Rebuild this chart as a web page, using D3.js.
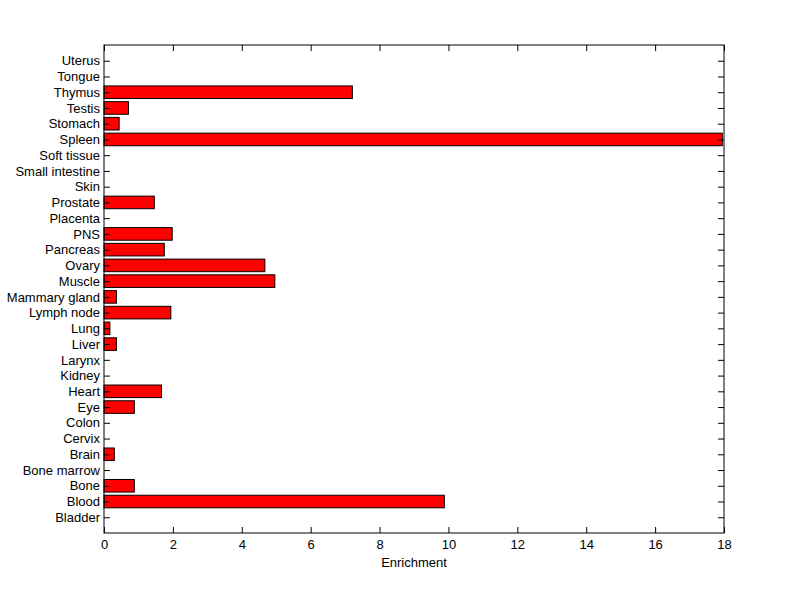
<!DOCTYPE html>
<html>
<head>
<meta charset="utf-8">
<script src="https://cdn.jsdelivr.net/npm/d3@7"></script>
<style>
  body { margin: 0; background: #fff; }
  text { font-family: "Liberation Sans", Arial, sans-serif; }
</style>
</head>
<body>
<svg id="chart" width="800" height="599"></svg>
<script>
const categories = ["Bladder","Blood","Bone","Bone marrow","Brain","Cervix","Colon","Eye","Heart","Kidney",
  "Larynx","Liver","Lung","Lymph node","Mammary gland","Muscle","Ovary","Pancreas","PNS","Placenta",
  "Prostate","Skin","Small intestine","Soft tissue","Spleen","Stomach","Testis","Thymus","Tongue","Uterus"];
const enrichment = [0, 9.88, 0.88, 0, 0.30, 0, 0, 0.88, 1.67, 0,
  0, 0.36, 0.17, 1.94, 0.36, 4.96, 4.67, 1.75, 1.98, 0,
  1.46, 0, 0, 0, 17.95, 0.44, 0.71, 7.21, 0, 0];
const xTicks = [0, 2, 4, 6, 8, 10, 12, 14, 16, 18];
const xLabel = "Enrichment";

(function () {
const svg = d3.select("#chart");
const mLeft = 104, mRight = 724, mTop = 45, mBottom = 533;
const x = d3.scaleLinear().domain([0, 18]).range([mLeft, mRight]);
const y = d3.scaleLinear().domain([0, 31]).range([mBottom, mTop]);
const barH = y(0) - y(0.8);

svg.append("rect").attr("width", 800).attr("height", 599).attr("fill", "#fff");

svg.append("g").selectAll("rect")
  .data(categories.map((c, i) => ({c, v: enrichment[i], p: i + 1})).filter(d => d.v > 0))
  .join("rect")
  .attr("x", x(0))
  .attr("y", d => y(d.p) - barH / 2)
  .attr("width", d => x(d.v) - x(0))
  .attr("height", barH)
  .attr("fill", "#ff0000")
  .attr("stroke", "#000")
  .attr("stroke-width", 1);

const tl = 6;
const fs = "13px";
const xb = svg.append("g").attr("transform", `translate(0,${mBottom})`)
  .call(d3.axisBottom(x).tickValues(xTicks).tickSize(-tl).tickPadding(7).tickFormat(d3.format("d")));
const xt = svg.append("g").attr("transform", `translate(0,${mTop})`)
  .call(d3.axisTop(x).tickValues(xTicks).tickSize(-tl).tickFormat(""));
const ordinals = categories.map((c, i) => i + 1);
const yl = svg.append("g").attr("transform", `translate(${mLeft},0)`)
  .call(d3.axisLeft(y).tickValues(ordinals).tickSize(-tl).tickPadding(4)
    .tickFormat(d => categories[d - 1]));
const yr = svg.append("g").attr("transform", `translate(${mRight},0)`)
  .call(d3.axisRight(y).tickValues(ordinals).tickSize(-tl).tickFormat(""));

[xb, xt, yl, yr].forEach(g => {
  g.selectAll(".domain").remove();
  g.selectAll(".tick line").attr("stroke", "#000");
  g.selectAll("text").attr("fill", "#000").style("font-size", fs).style("font-family", '"Liberation Sans", Arial, sans-serif');
});

svg.append("rect").attr("x", mLeft).attr("y", mTop).attr("width", mRight - mLeft).attr("height", mBottom - mTop)
  .attr("fill", "none").attr("stroke", "#000").attr("stroke-width", 1);

svg.append("text").attr("x", (mLeft + mRight) / 2).attr("y", 567)
  .attr("text-anchor", "middle").style("font-size", "13px").attr("fill", "#000").text(xLabel);
})();
</script>
</body>
</html>
